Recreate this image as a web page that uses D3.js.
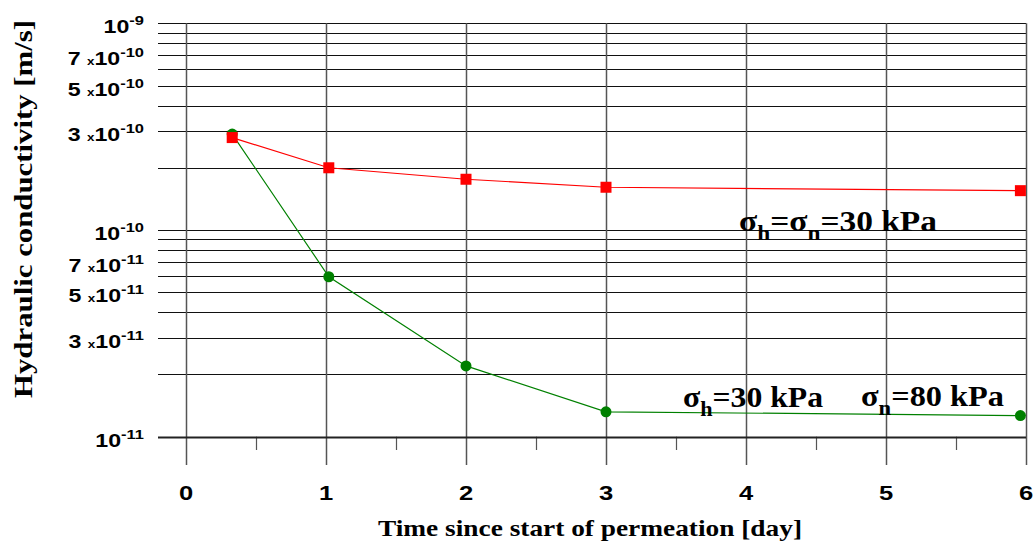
<!DOCTYPE html>
<html lang="en">
<head>
  <meta charset="UTF-8">
  <title>Hydraulic conductivity vs time</title>
  <style>
    body { margin: 0; background: #fff; }
    .tick-label { font-family: "Liberation Sans", Arial, sans-serif; font-weight: bold; fill: #000; }
    .title { font-family: "Liberation Serif", "Times New Roman", serif; font-weight: bold; fill: #000; }
  </style>
</head>
<body>
  <script src="https://d3js.org/d3.v7.min.js"></script>
  <script>
    // time since start of permeation [day]
    const days = [0.33, 1.02, 2.0, 3.0, 5.96];
    // sigma_h = sigma_n = 30 kPa
    const kEqual = [2.80e-10, 2.00e-10, 1.76e-10, 1.61e-10, 1.55e-10];
    // sigma_h = 30 kPa, sigma_n = 80 kPa
    const kAniso = [2.91e-10, 5.94e-11, 2.20e-11, 1.32e-11, 1.265e-11];

    const xTicks = [0, 1, 2, 3, 4, 5, 6];
    const xMinor = [0.5, 1.5, 2.5, 3.5, 4.5, 5.5];
    // labelled y ticks: [mantissa, exponent]
    const yLabels = [[1, -9], [7, -10], [5, -10], [3, -10], [1, -10], [7, -11], [5, -11], [3, -11], [1, -11]];

    const W = 1034, H = 544;
    const LEFT = 158, RIGHT = 1026, TOP = 23.3, BOTTOM = 436.7;

    const x = d3.scaleLinear().domain([-0.2, 6]).range([LEFT, RIGHT]);
    const y = d3.scaleLog().domain([1e-11, 1e-9]).range([BOTTOM, TOP]);

    const svg = d3.select('body').append('svg')
      .attr('width', W)
      .attr('height', H);

    // horizontal grid, every 1..9 per decade
    svg.append('g')
      .selectAll('line')
      .data(y.ticks())
      .enter()
      .append('line')
        .attr('x1', LEFT)
        .attr('x2', RIGHT)
        .attr('y1', d => Math.round(y(d)) + 0.5)
        .attr('y2', d => Math.round(y(d)) + 0.5)
        .attr('stroke', '#111')
        .attr('stroke-width', 1.2);

    // vertical grid with long ticks below the axis
    svg.append('g')
      .selectAll('line')
      .data(xTicks)
      .enter()
      .append('line')
        .attr('x1', d => Math.round(x(d)) + 0.5)
        .attr('x2', d => Math.round(x(d)) + 0.5)
        .attr('y1', TOP)
        .attr('y2', 465)
        .attr('stroke', '#555')
        .attr('stroke-width', 1.5);

    // half-day minor ticks
    svg.append('g')
      .selectAll('line')
      .data(xMinor)
      .enter()
      .append('line')
        .attr('x1', d => Math.round(x(d)) + 0.5)
        .attr('x2', d => Math.round(x(d)) + 0.5)
        .attr('y1', BOTTOM)
        .attr('y2', 450)
        .attr('stroke', '#555')
        .attr('stroke-width', 1.2);

    // bottom axis line
    svg.append('line')
      .attr('x1', LEFT).attr('x2', RIGHT)
      .attr('y1', Math.round(BOTTOM) + 0.5).attr('y2', Math.round(BOTTOM) + 0.5)
      .attr('stroke', '#222')
      .attr('stroke-width', 1.8);

    // x tick labels (the original font is rendered wide)
    svg.append('g')
      .selectAll('text')
      .data(xTicks)
      .enter()
      .append('text')
        .attr('class', 'tick-label')
        .attr('transform', d => `translate(${x(d)},500) scale(1.28,1)`)
        .attr('text-anchor', 'middle')
        .style('font-size', '20px')
        .text(d => d);

    // y tick labels  "7 x10^-10"
    const yl = svg.append('g')
      .selectAll('text')
      .data(yLabels)
      .enter()
      .append('text')
        .attr('class', 'tick-label')
        .attr('transform', d => `translate(144,${y(d[0] * Math.pow(10, d[1])) + 10}) scale(1.22,1)`)
        .attr('text-anchor', 'end')
        .style('font-size', '19px');

    yl.filter(d => d[0] !== 1).append('tspan').text(d => d[0] + ' ');
    yl.filter(d => d[0] !== 1).append('tspan').style('font-size', '11px').text('x');
    yl.append('tspan').text('10');
    yl.append('tspan')
      .attr('dy', -8)
      .style('font-size', '13.5px')
      .text(d => d[1]);

    // series
    const line = d3.line().x(d => x(d[0])).y(d => y(d[1]));
    const green = days.map((d, i) => [d, kAniso[i]]);
    const red = days.map((d, i) => [d, kEqual[i]]);

    svg.append('path')
      .datum(green)
      .attr('d', line)
      .attr('fill', 'none')
      .attr('stroke', '#008000')
      .attr('stroke-width', 1.2);
    svg.append('g')
      .selectAll('circle')
      .data(green)
      .enter()
      .append('circle')
        .attr('cx', d => x(d[0]))
        .attr('cy', d => y(d[1]))
        .attr('r', 5.5)
        .attr('fill', '#008000');

    svg.append('path')
      .datum(red)
      .attr('d', line)
      .attr('fill', 'none')
      .attr('stroke', '#ff0000')
      .attr('stroke-width', 1.2);
    svg.append('g')
      .selectAll('rect')
      .data(red)
      .enter()
      .append('rect')
        .attr('x', d => x(d[0]) - 5.5)
        .attr('y', d => y(d[1]) - 5.5)
        .attr('width', 11)
        .attr('height', 11)
        .attr('fill', '#ff0000');

    // series annotations: sigma with subscripts
    function sigmaLabel(px, py, len, parts) {
      const t = svg.append('text')
        .attr('class', 'title')
        .attr('x', px)
        .attr('y', py)
        .attr('textLength', len)
        .attr('lengthAdjust', 'spacingAndGlyphs')
        .style('font-size', '30px');
      let down = false;
      parts.forEach(p => {
        if (p.sub) {
          t.append('tspan').attr('dy', 9).style('font-size', '21px').text(p.sub);
          down = true;
        } else {
          t.append('tspan').attr('dy', down ? -9 : 0).text(p.text);
          down = false;
        }
      });
      return t;
    }
    sigmaLabel(739, 231, 198, [{text: 'σ'}, {sub: 'h'}, {text: '=σ'}, {sub: 'n'}, {text: '=30 kPa'}]);
    sigmaLabel(683, 407, 140, [{text: 'σ'}, {sub: 'h'}, {text: '=30 kPa'}]);
    sigmaLabel(861, 406, 143, [{text: 'σ'}, {sub: 'n'}, {text: '=80 kPa'}]);

    // axis titles
    svg.append('text')
      .attr('class', 'title')
      .attr('x', 590)
      .attr('y', 536)
      .attr('text-anchor', 'middle')
      .attr('textLength', 424)
      .attr('lengthAdjust', 'spacingAndGlyphs')
      .style('font-size', '24px')
      .text('Time since start of permeation [day]');

    svg.append('text')
      .attr('class', 'title')
      .attr('transform', 'translate(32,209) rotate(-90)')
      .attr('text-anchor', 'middle')
      .attr('textLength', 378)
      .attr('lengthAdjust', 'spacingAndGlyphs')
      .style('font-size', '26px')
      .text('Hydraulic conductivity [m/s]');
  </script>
</body>
</html>
